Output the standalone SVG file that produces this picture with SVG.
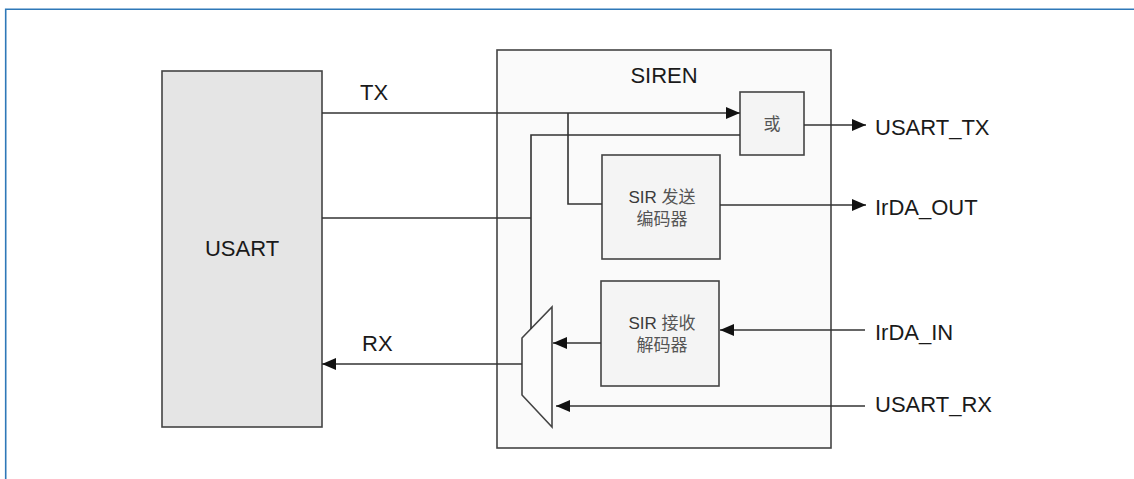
<svg xmlns="http://www.w3.org/2000/svg" width="1134" height="479" viewBox="0 0 1134 479">
<style>
.box{stroke:#444;stroke-width:1.6;}
.ln{fill:none;stroke:#333;stroke-width:1.6;}
.lbl{font-family:"Liberation Sans",Arial,sans-serif;font-size:22px;fill:#1a1a1a;}
.in{font-family:"Liberation Sans","Noto Sans CJK SC",sans-serif;font-size:17px;fill:#3a3a3a;text-anchor:middle;}
.cj{fill:#555;}
</style>
<defs>
<marker id="arr" markerUnits="userSpaceOnUse" markerWidth="15" markerHeight="12" refX="14" refY="6" orient="auto">
<path d="M0,0 L14,6 L0,12 Z" fill="#111"/>
</marker>
</defs>
<rect x="0" y="0" width="1134" height="479" fill="#fff"/>
<path d="M5.7,479 V9.3 H1134" fill="none" stroke="#2e78b8" stroke-width="1.6"/>

<g id="usart">
<rect class="box" x="162" y="71" width="160" height="356" fill="#e5e5e5"/>
<text class="lbl" x="242" y="256" text-anchor="middle" font-size="23">USART</text>
</g>

<g id="siren">
<rect class="box" x="497" y="50" width="334" height="398" fill="#fafafa"/>
<text class="lbl" x="664" y="83" text-anchor="middle">SIREN</text>
</g>

<g id="or">
<rect class="box" x="740" y="92" width="64" height="63" fill="#f4f4f4"/>
<text class="in cj" x="772" y="130" font-size="16">或</text>
</g>

<g id="sir-tx">
<rect class="box" x="602" y="155" width="118" height="104" fill="#f4f4f4"/>
<text class="in" x="662" y="203">SIR <tspan class="cj">发送</tspan></text>
<text class="in cj" x="662" y="225">编码器</text>
</g>

<g id="sir-rx">
<rect class="box" x="601" y="281" width="118" height="105" fill="#f4f4f4"/>
<text class="in" x="662" y="329">SIR <tspan class="cj">接收</tspan></text>
<text class="in cj" x="662" y="351">解码器</text>
</g>

<g id="mux">
<polygon class="box" points="522,338 552,307 552,427 522,395" fill="#fcfcfc"/>
</g>

<g id="connectors">
<path class="ln" d="M322,113 H740" marker-end="url(#arr)"/>
<path class="ln" d="M568,113 V204 H602"/>
<path class="ln" d="M322,218 H531"/>
<path class="ln" d="M531,329 V135 H740"/>
<path class="ln" d="M804,125 H866" marker-end="url(#arr)"/>
<path class="ln" d="M720,205 H866" marker-end="url(#arr)"/>
<path class="ln" d="M865,330 H720" marker-end="url(#arr)"/>
<path class="ln" d="M601,343 H553" marker-end="url(#arr)"/>
<path class="ln" d="M865,406 H556" marker-end="url(#arr)"/>
<path class="ln" d="M522,364 H322" marker-end="url(#arr)"/>
</g>

<g id="labels">
<text class="lbl" x="360" y="100">TX</text>
<text class="lbl" x="362" y="351">RX</text>
<text class="lbl" x="875" y="135">USART_TX</text>
<text class="lbl" x="875" y="215">IrDA_OUT</text>
<text class="lbl" x="875" y="340">IrDA_IN</text>
<text class="lbl" x="875" y="412">USART_RX</text>
</g>
</svg>
